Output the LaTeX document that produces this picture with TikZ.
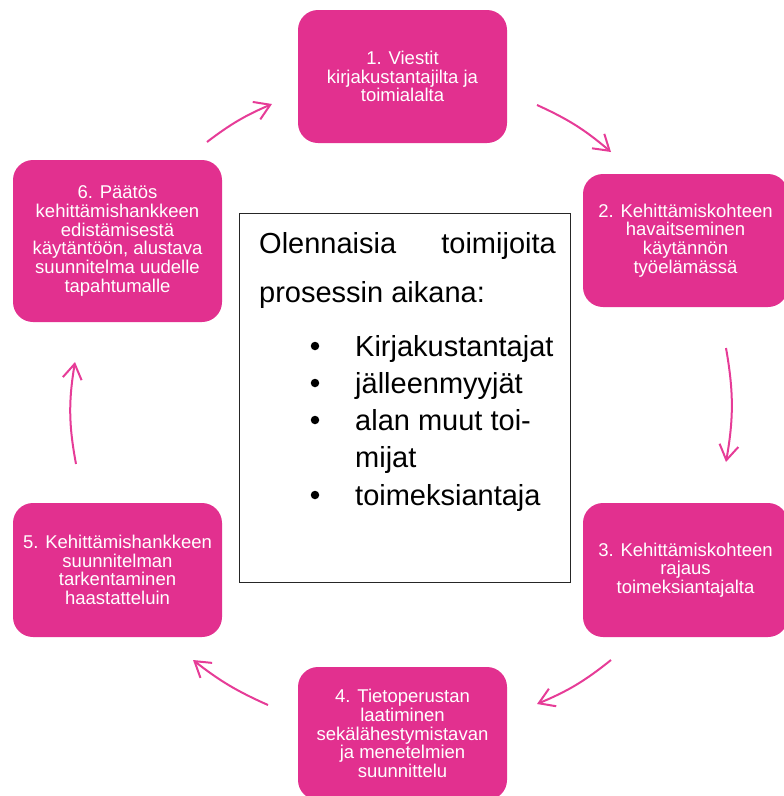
\documentclass[tikz,border=0pt]{standalone}
\usepackage{fontspec}
\setmainfont{Liberation Sans}
\usetikzlibrary{arrows.meta}
\definecolor{pinkfill}{HTML}{E2308F}
\definecolor{pinkarrow}{HTML}{E63C97}
\definecolor{framegray}{HTML}{262626}
\begin{document}
\begin{tikzpicture}[x=1pt,y=-1pt,
  stepbox/.style={fill=pinkfill, rounded corners=20pt, text=white, align=center,
    inner sep=0pt, font=\fontsize{18.5}{18.7}\selectfont},
  cyc/.style={draw=pinkarrow, line width=2pt,
    -{Straight Barb[length=15pt,width=19pt]}, bend left=#1},
  cyc/.default=8,
  bigtext/.style={font=\fontsize{29}{31}\selectfont, inner sep=0pt, text=black},
  dot/.style={circle, fill=black, minimum size=8.5pt, inner sep=0pt},
]
\useasboundingbox (0,0) rectangle (784,796);
\clip (0,0) rectangle (784,796);

% step boxes
\node[stepbox, minimum width=209pt, minimum height=133pt] (n1) at (402.5,76.5)
  {1. Viestit\\kirjakustantajilta ja\\toimialalta};
\node[stepbox, minimum width=205pt, minimum height=133pt] (n2) at (685.5,240.5)
  {2. Kehittämiskohteen\\havaitseminen\\käytännön\\työelämässä};
\node[stepbox, minimum width=205pt, minimum height=134pt] (n3) at (685.5,570)
  {3. Kehittämiskohteen\\rajaus\\toimeksiantajalta};
\node[stepbox, minimum width=209pt, minimum height=133pt] (n4) at (402.5,733.5)
  {4. Tietoperustan\\laatiminen\\sekälähestymistavan\\ja menetelmien\\suunnittelu};
\node[stepbox, minimum width=209pt, minimum height=134pt] (n5) at (117.5,570)
  {5. Kehittämishankkeen\\suunnitelman\\tarkentaminen\\haastatteluin};
\node[stepbox, minimum width=209pt, minimum height=162pt] (n6) at (117.5,241)
  {6. Päätös\\kehittämishankkeen\\edistämisestä\\käytäntöön, alustava\\suunnitelma uudelle\\tapahtumalle};

% centre frame
\node[draw=framegray, line width=1pt, minimum width=331pt, minimum height=369pt,
  inner sep=0pt] (fr) at (404.5,397.5) {};
\node[bigtext, anchor=base west] (t1) at (259,253) {Olennaisia};
\node[bigtext, anchor=base east] (t2) at (556,253) {toimijoita};
\node[bigtext, anchor=base west] (t3) at (259,302) {prosessin aikana:};
\node[dot] (b1) at (315,346) {};
\node[bigtext, anchor=base west] (l1) at (355,356) {Kirjakustantajat};
\node[dot] (b2) at (315,383) {};
\node[bigtext, anchor=base west] (l2) at (355,393) {jälleenmyyjät};
\node[dot] (b3) at (315,420) {};
\node[bigtext, anchor=base west] (l3) at (355,430) {alan muut toi-};
\node[bigtext, anchor=base west] (l3b) at (355,467) {mijat};
\node[dot] (b4) at (315,495) {};
\node[bigtext, anchor=base west] (l4) at (355,505) {toimeksiantaja};

% arrow end points
\coordinate (a1s) at (207,142); \coordinate (a1e) at (272,104);
\coordinate (a2s) at (537,105); \coordinate (a2e) at (611,152);
\coordinate (a3s) at (726,348); \coordinate (a3e) at (726,462);
\coordinate (a4s) at (611,660); \coordinate (a4e) at (537,704);
\coordinate (a5s) at (268,705); \coordinate (a5e) at (193,660);
\coordinate (a6s) at (76,464);  \coordinate (a6e) at (75,362);

\draw[cyc=7] (a1s) to (a1e);
\draw[cyc=8] (a2s) to (a2e);
\draw[cyc=10] (a3s) to (a3e);
\draw[cyc=8] (a4s) to (a4e);
\draw[cyc=7] (a5s) to (a5e);
\draw[cyc=10] (a6s) to (a6e);
\end{tikzpicture}
\end{document}
